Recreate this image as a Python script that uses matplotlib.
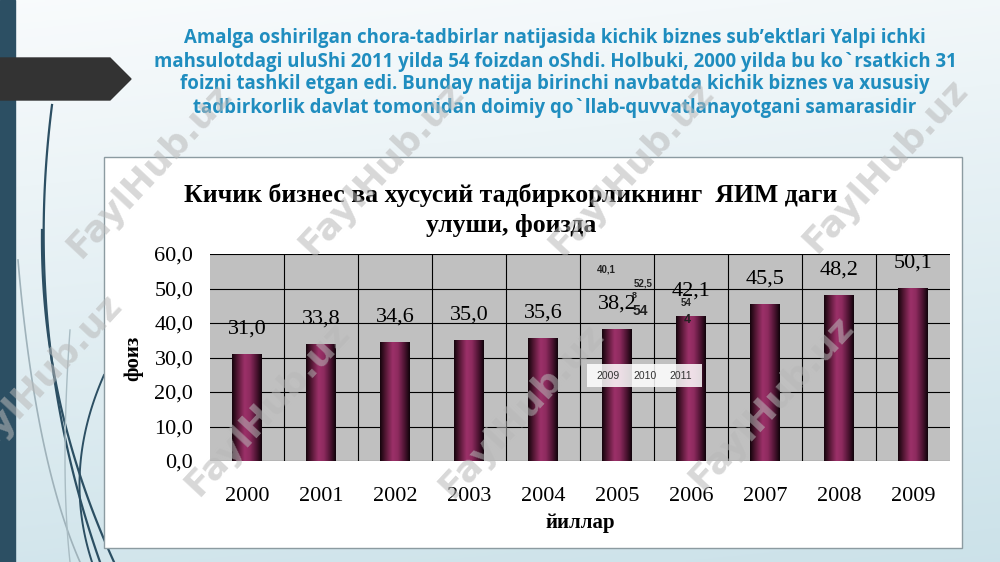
import numpy as np
import matplotlib.pyplot as plt
from matplotlib.patches import Rectangle, Polygon
from matplotlib.colors import LinearSegmentedColormap

# data
years = ['2000', '2001', '2002', '2003', '2004', '2005', '2006', '2007', '2008', '2009']
share = [31.0, 33.8, 34.6, 35.0, 35.6, 38.2, 42.1, 45.5, 48.2, 50.1]
yticks = [0, 10, 20, 30, 40, 50, 60]
ytick_labels = ['0,0', '10,0', '20,0', '30,0', '40,0', '50,0', '60,0']

slide_title = ("Amalga oshirilgan chora-tadbirlar natijasida kichik biznes sub’ektlari Yalpi ichki\n"
               "mahsulotdagi uluShi 2011 yilda 54 foizdan oShdi. Holbuki, 2000 yilda bu ko`rsatkich 31\n"
               "foizni tashkil etgan edi. Bunday natija birinchi navbatda kichik biznes va xususiy\n"
               "tadbirkorlik davlat tomonidan doimiy qo`llab-quvvatlanayotgani samarasidir")
chart_title = "Кичик бизнес ва хусусий тадбиркорликнинг  ЯИМ даги\nулуши, фоизда"
ylabel = "фоиз"
xlabel = "йиллар"

# leftovers of a second chart pasted over the slide
stray_years = ['2009', '2010', '2011']
stray_text = ['40,1', '52,5', '8', '54', '54', '4']

fig = plt.figure(figsize=(10, 5.62), dpi=100)

# slide background in pixel coordinates
bg = fig.add_axes([0, 0, 1, 1], zorder=0)
bg.set_xlim(0, 1000)
bg.set_ylim(562, 0)
bg.axis('off')
yy, xx = np.mgrid[0:1:200j, 0:1:300j]
t = np.clip(0.8 * yy + 0.15 * xx, 0, 1)[..., None]
top_c = np.array([0.975, 0.985, 0.99])
bot_c = np.array([0.79, 0.88, 0.91])
bg.imshow(top_c * (1 - t) + bot_c * t, extent=(0, 1000, 562, 0), aspect='auto', zorder=0)

# decorations on the left
bg.add_patch(Rectangle((0, 0), 15, 562, color='#2c4f63', zorder=2))
bg.add_patch(Polygon([(0, 58), (110, 58), (131, 79), (110, 100), (0, 100)], closed=True,
                     color='#333333', zorder=3))

def curve(p0, p1, p2):
    s = np.linspace(0, 1, 100)[:, None]
    pts = (1 - s) ** 2 * np.array(p0) + 2 * (1 - s) * s * np.array(p1) + s ** 2 * np.array(p2)
    return pts[:, 0], pts[:, 1]

for (p0, p1, p2), col, lw in [(((52, 105), (22, 340), (100, 562)), '#2c4f63', 1.6),
                              (((42, 230), (40, 400), (114, 562)), '#2c4f63', 1.6),
                              (((104, 375), (62, 470), (92, 562)), '#2c4f63', 1.4),
                              (((18, 260), (35, 460), (80, 562)), '#9fb2ba', 1.2),
                              (((70, 330), (60, 470), (70, 562)), '#a9bcc3', 1.0)]:
    cx, cy = curve(p0, p1, p2)
    bg.plot(cx, cy, color=col, lw=lw, zorder=1)

bg.text(555, 73, slide_title, ha='center', va='center', color='#1f8dbf',
        fontsize=13.4, fontweight='bold', family='Open Sans', linespacing=1.2)

# white chart panel
bg.add_patch(Rectangle((104, 157), 858, 391, facecolor='white', edgecolor='#8c9ba1',
                       lw=1.0, zorder=4))
bg.text(511, 210, chart_title, ha='center', va='center', fontsize=18.5, fontweight='bold',
        family='Liberation Serif', linespacing=1.38, zorder=5)
bg.text(133, 358, ylabel, ha='center', va='center', rotation=90, fontsize=15,
        fontweight='bold', family='Liberation Serif', zorder=5)
bg.text(580, 523, xlabel, ha='center', va='center', fontsize=15,
        fontweight='bold', family='Liberation Serif', zorder=5)

# bar chart
ax = fig.add_axes([0.21, 1 - 461 / 562, 0.74, 207 / 562], zorder=2)
ax.set_facecolor('#c0c0c0')
x = np.arange(len(years))
cyl = LinearSegmentedColormap.from_list('cyl', [(0, '#14040c'), (0.18, '#541734'),
                                                (0.42, '#9c3169'), (0.6, '#8e2b5f'),
                                                (0.82, '#4e1433'), (1, '#10030a')])
bars = ax.bar(x, share, width=0.4, color='none', zorder=3)
grad = np.linspace(0, 1, 64).reshape(1, -1)
for b in bars:
    x0, w, h = b.get_x(), b.get_width(), b.get_height()
    im = ax.imshow(grad, cmap=cyl, extent=(x0, x0 + w, 0, h), aspect='auto',
                   interpolation='bicubic', zorder=3)
    im.set_clip_path(b)
for xi, v in zip(x, share):
    ax.annotate(f'{v:.1f}'.replace('.', ','), (xi, v), xytext=(0, 18),
                textcoords='offset points', ha='center', va='center',
                fontsize=16, family='Liberation Serif', zorder=4)

ax.set_xlim(-0.5, len(years) - 0.5)
ax.set_ylim(0, 60)
ax.set_xticks(x)
ax.set_xticklabels(years, fontsize=16, family='Liberation Serif')
ax.set_yticks(yticks)
ax.set_yticklabels(ytick_labels, fontsize=16, family='Liberation Serif')
ax.set_xticks(x[:-1] + 0.5, minor=True)
ax.tick_params(which='both', length=0)
ax.tick_params(axis='x', pad=19)
ax.tick_params(axis='y', pad=12)
ax.set_axisbelow(True)
ax.grid(axis='y', which='major', color='black', lw=0.8)
ax.grid(axis='x', which='minor', color='black', lw=0.8)
for sp in ax.spines.values():
    sp.set_visible(False)

# overlay layer: stray labels and watermarks
top = fig.add_axes([0, 0, 1, 1], zorder=5)
top.set_xlim(0, 1000)
top.set_ylim(562, 0)
top.axis('off')
top.add_patch(Rectangle((587, 364), 115, 23, facecolor='white', edgecolor='none', alpha=0.85))
for yr, px in zip(stray_years, [608, 645, 681]):
    top.text(px, 376, yr, ha='center', va='center', fontsize=7.5, color='#333333',
             family='Liberation Sans')
for txt, (px, py, fs) in zip(stray_text, [(606, 270, 7), (643, 284, 7), (634, 295, 6.5),
                                          (640, 311, 10), (686, 303, 7), (687, 320, 9)]):
    top.text(px, py, txt, ha='center', va='center', fontsize=fs, fontweight='bold',
             color='#222222', family='Liberation Sans')

for wx, wy in [(150, 170), (382, 168), (632, 168), (886, 165),
               (40, 380), (268, 408), (522, 410), (772, 402)]:
    top.text(wx, wy, 'FaylHub.uz', ha='center', va='center', rotation=47, fontsize=26,
             fontweight='bold', family='DejaVu Sans', color='#b8b8b8', alpha=0.55)

fig.savefig('out.png', dpi=100)
